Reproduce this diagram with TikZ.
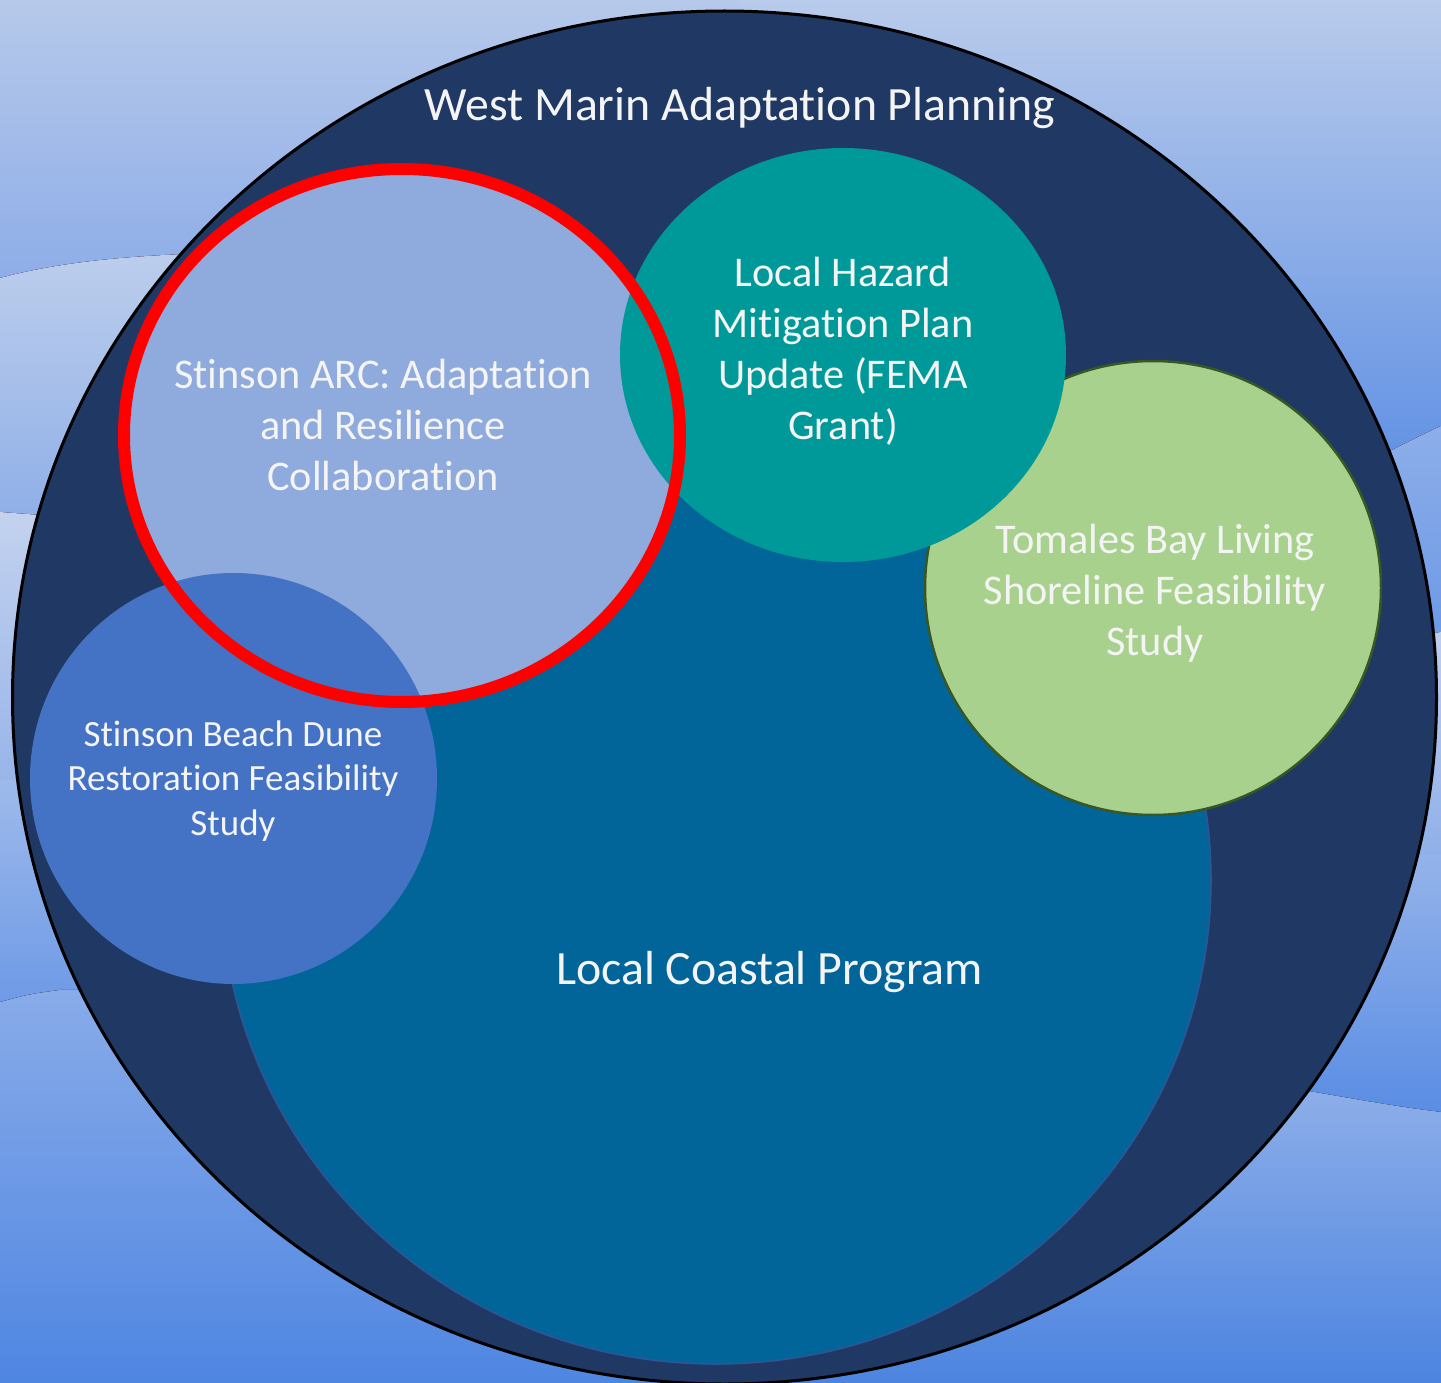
\documentclass[tikz,border=0pt]{standalone}
\usepackage{fontspec}
\setmainfont{Carlito}[Ligatures=NoCommon]
\definecolor{navy}{HTML}{203864}
\definecolor{lcp}{HTML}{02659A}
\definecolor{lcpedge}{HTML}{2F5597}
\definecolor{arcfill}{HTML}{8FAADC}
\definecolor{hazard}{HTML}{009999}
\definecolor{tomales}{HTML}{A9D18E}
\definecolor{tomedge}{HTML}{385723}
\definecolor{dune}{HTML}{4472C4}
\definecolor{ringred}{HTML}{FF0000}
\definecolor{txt}{HTML}{F4F4F4}
% background colours
\definecolor{bgLa}{RGB}{182,201,234}
\definecolor{bgLb}{RGB}{142,173,232}
\definecolor{bgLc}{RGB}{189,206,236}
\definecolor{bgLd}{RGB}{143,175,232}
\definecolor{bgLe}{RGB}{195,210,238}
\definecolor{bgLf}{RGB}{151,180,234}
\definecolor{bgLg}{RGB}{158,186,235}
\definecolor{bgLh}{RGB}{110,154,230}
\definecolor{bgLi}{RGB}{138,172,233}
\definecolor{bgLj}{RGB}{79,134,226}
\definecolor{bgRa}{RGB}{185,203,235}
\definecolor{bgRb}{RGB}{99,146,228}
\definecolor{bgRc}{RGB}{141,174,233}
\definecolor{bgRd}{RGB}{108,153,230}
\definecolor{bgRe}{RGB}{190,206,238}
\definecolor{bgRf}{RGB}{143,176,233}
\definecolor{bgRg}{RGB}{148,179,234}
\definecolor{bgRh}{RGB}{90,141,228}
\definecolor{bgRi}{RGB}{141,174,233}
\definecolor{bgRj}{RGB}{76,132,224}
\tikzset{
  lbl/.style={text=txt, align=center, inner sep=0pt},
  bigfont/.style={font=\fontsize{47.8}{57}\selectfont},
  midfont/.style={font=\fontsize{42.3}{51}\selectfont},
  smallfont/.style={font=\fontsize{37}{44.5}\selectfont},
}
\begin{document}
\begin{tikzpicture}[x=1pt,y=-1pt]
\useasboundingbox (0,0) rectangle (1441,1383);
\clip (0,0) rectangle (1441,1383);
% ---- background, left side
\fill[top color=bgLa, bottom color=bgLb]
  (0,0) -- (740,0) -- (740,250) -- (220,253) .. controls (130,255) and (60,262) .. (0,278) -- cycle;
\fill[top color=bgLc, bottom color=bgLd]
  (0,278) .. controls (60,262) and (130,255) .. (220,253) -- (740,250) -- (740,520) -- (40,515) .. controls (20,513) .. (0,512) -- cycle;
\fill[top color=bgLe, bottom color=bgLf]
  (0,512) .. controls (20,513) .. (40,515) -- (740,520) -- (740,785) -- (0,780) -- cycle;
\fill[top color=bgLg, bottom color=bgLh]
  (0,780) -- (740,785) -- (740,980) -- (60,990) .. controls (30,994) .. (0,1002) -- cycle;
\fill[top color=bgLi, bottom color=bgLj]
  (0,1002) .. controls (30,994) .. (60,990) -- (740,980) -- (740,1383) -- (0,1383) -- cycle;
% ---- background, right side
\fill[top color=bgRa, bottom color=bgRb]
  (740,0) -- (1441,0) -- (1441,426) .. controls (1410,440) and (1390,452) .. (1370,460) -- (740,460) -- cycle;
\fill[top color=bgRc, bottom color=bgRd]
  (740,460) -- (1370,460) .. controls (1390,452) and (1410,440) .. (1441,426) -- (1441,632) -- (1400,638) -- (740,640) -- cycle;
\fill[top color=bgRe, bottom color=bgRf]
  (740,640) -- (1400,638) -- (1441,632) -- (1441,855) -- (740,855) -- cycle;
\fill[top color=bgRg, bottom color=bgRh]
  (740,855) -- (1441,855) -- (1441,1112) .. controls (1390,1106) and (1340,1096) .. (1290,1088) -- (740,1088) -- cycle;
\fill[top color=bgRi, bottom color=bgRj]
  (740,1088) -- (1290,1088) .. controls (1340,1096) and (1390,1106) .. (1441,1112) -- (1441,1383) -- (740,1383) -- cycle;
% ---- circles
\path[fill=navy, draw=black, line width=3pt] (724.5,697.5) ellipse [x radius=712pt, y radius=686.5pt];
\path[fill=lcp, draw=lcpedge, line width=1.5pt] (716,880) ellipse [x radius=495pt, y radius=484pt];
\path[fill=arcfill] (402,435.5) ellipse [x radius=278pt, y radius=266.5pt];
\path[fill=tomales, draw=tomedge, line width=2.5pt] (1153,588) ellipse [x radius=228pt, y radius=227pt];
\path[fill=hazard] (843,355) ellipse [x radius=223pt, y radius=207pt];
\path[fill=dune] (233.5,778.5) ellipse [x radius=203.5pt, y radius=205.5pt];
\path[draw=ringred, line width=12pt] (402,435.5) ellipse [x radius=278pt, y radius=266.5pt];
% ---- labels
\node[lbl, bigfont, anchor=base] (title) at (740,121) {West Marin Adaptation Planning};
\node[lbl, bigfont, anchor=base] (lcpl) at (769.5,984) {Local Coastal Program};
\node[lbl, midfont] (arcl) at (383,425) {Stinson ARC: Adaptation\\and Resilience\\Collaboration};
\node[lbl, midfont] (hazl) at (843,351) {Local Hazard\\Mitigation Plan\\Update (FEMA\\Grant)};
\node[lbl, midfont] (toml) at (1155,593) {Tomales Bay Living\\Shoreline Feasibility\\Study};
\node[lbl, smallfont] (dunel) at (233,781) {Stinson Beach Dune\\Restoration Feasibility\\Study};
\end{tikzpicture}
\end{document}
